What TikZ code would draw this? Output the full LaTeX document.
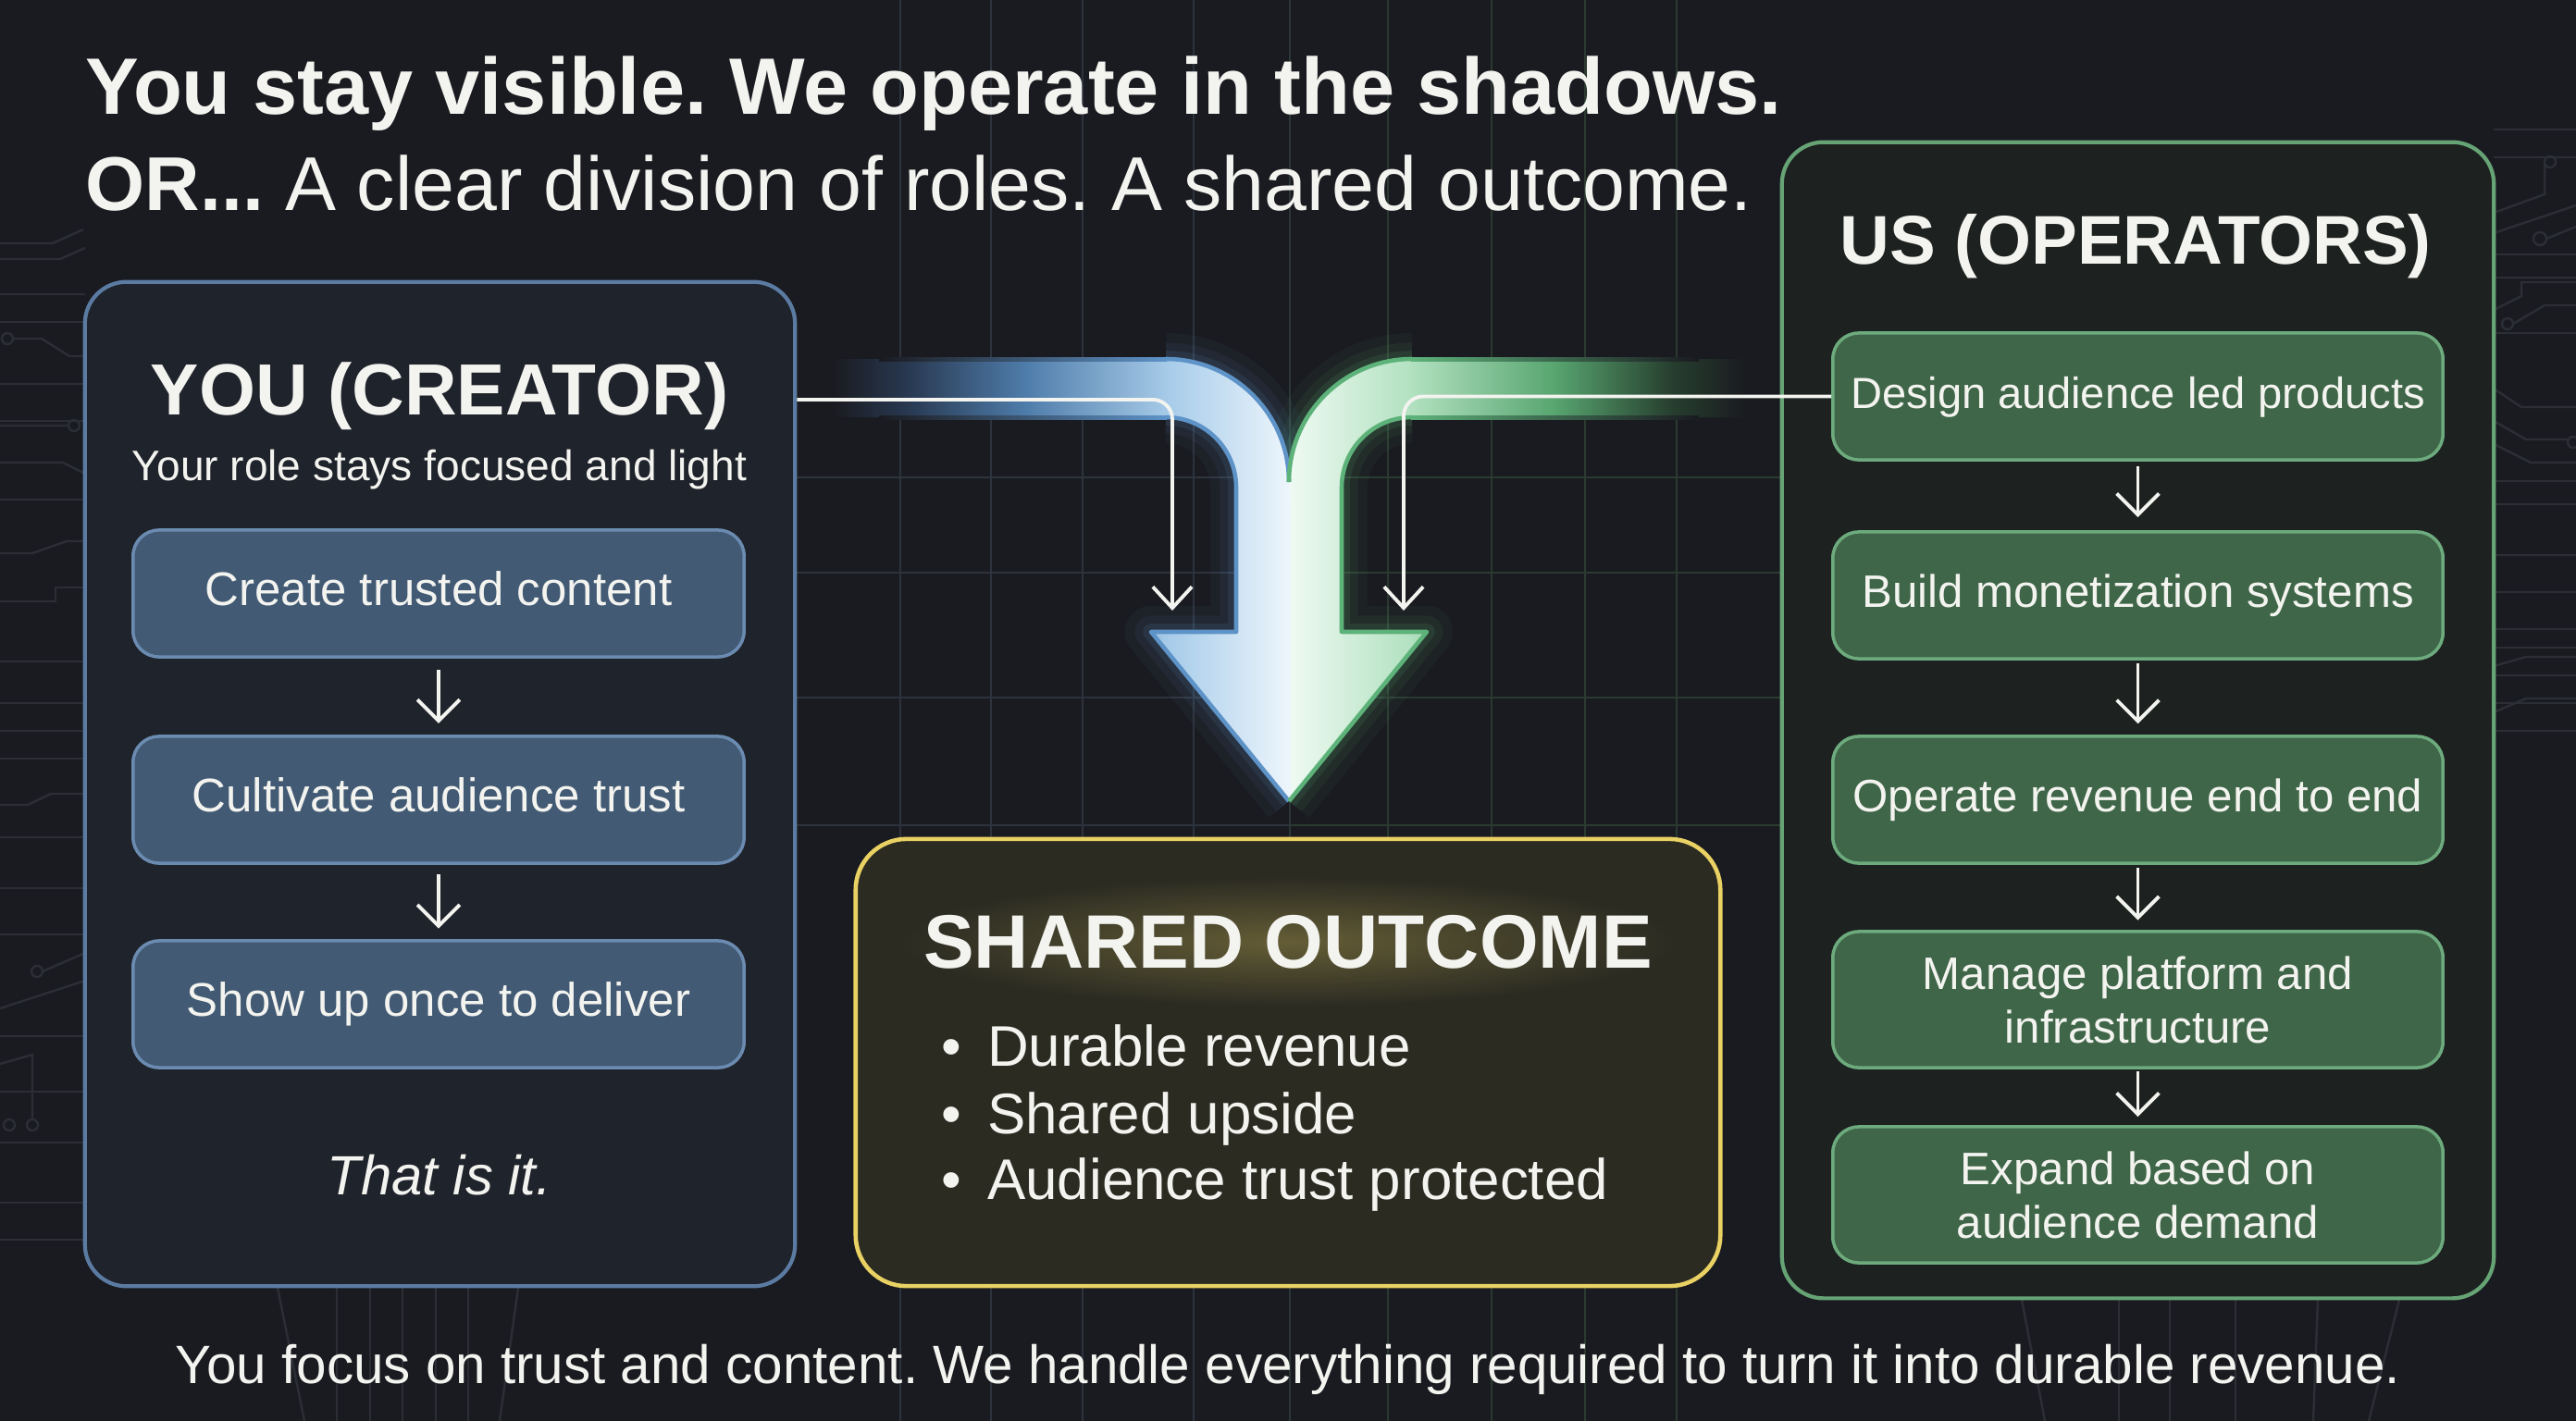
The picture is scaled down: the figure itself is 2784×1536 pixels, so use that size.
\documentclass[tikz,border=0pt]{standalone}
\usepackage{fontspec}
\setmainfont{Liberation Sans}
\usetikzlibrary{arrows.meta}
\frenchspacing
\definecolor{bg}{HTML}{1A1B20}
\definecolor{gridb}{HTML}{2D333D}
\definecolor{gridg}{HTML}{2B3A31}
\definecolor{trace}{HTML}{2B2E35}
\definecolor{lpfill}{HTML}{1F232B}
\definecolor{lpborder}{HTML}{5B7BA2}
\definecolor{bbfill}{HTML}{425A74}
\definecolor{bbborder}{HTML}{6B8BB1}
\definecolor{rpfill}{HTML}{1D2220}
\definecolor{rpborder}{HTML}{66A476}
\definecolor{gbfill}{HTML}{3F6648}
\definecolor{gbborder}{HTML}{6DAB7E}
\definecolor{sofill}{HTML}{2B2B22}
\definecolor{soborder}{HTML}{E9D163}
\definecolor{txt}{HTML}{F3F3EF}
\definecolor{arrblue}{HTML}{5E93C8}
\definecolor{arrgreen}{HTML}{5DB27A}
\definecolor{bbz}{HTML}{283850}
\definecolor{bbo}{HTML}{4E7CAA}
\definecolor{bbt}{HTML}{A9CDEA}
\definecolor{bbw}{HTML}{EEF6FC}
\definecolor{ggz}{HTML}{263E2E}
\definecolor{ggo}{HTML}{58A670}
\definecolor{ggt}{HTML}{B4E2C2}
\definecolor{ggw}{HTML}{EFFAF2}
\pgfdeclarehorizontalshading{blueband}{100bp}{color(0bp)=(bg); color(25bp)=(bg); color(33bp)=(bbz); color(46bp)=(bbo); color(62bp)=(bbt); color(75bp)=(bbw); color(100bp)=(bbw)}
\pgfdeclarehorizontalshading{greenband}{100bp}{color(0bp)=(ggw); color(25bp)=(ggw); color(38bp)=(ggt); color(54bp)=(ggo); color(67bp)=(ggz); color(75bp)=(bg); color(100bp)=(bg)}
\pgfdeclarelayer{back}
\pgfsetlayers{back,main}
\tikzset{
  panelL/.style={draw=lpborder, fill=lpfill, line width=1.2pt, rounded corners=0.45cm, minimum width=7.67cm, minimum height=10.85cm, inner sep=0pt},
  panelR/.style={draw=rpborder, fill=rpfill, line width=1.2pt, rounded corners=0.45cm, minimum width=7.69cm, minimum height=12.49cm, inner sep=0pt},
  outbox/.style={draw=soborder, fill=sofill, line width=1.3pt, rounded corners=0.55cm, minimum width=9.34cm, minimum height=4.83cm, inner sep=0pt},
  bluebox/.style={draw=bbborder, fill=bbfill, line width=1.0pt, rounded corners=0.28cm, minimum width=6.6cm, minimum height=1.37cm, inner xsep=1pt, text=txt, font=\fontsize{14.5}{17}\selectfont, align=center},
  greenbox/.style={draw=gbborder, fill=gbfill, line width=1.0pt, rounded corners=0.28cm, minimum width=6.59cm, minimum height=1.37cm, inner xsep=1pt, text=txt, font=\fontsize{14}{16.5}\selectfont, align=center},
  oneline/.style={text height=0.72em, text depth=0pt},
  label/.style={text=txt, inner sep=0pt},
  steparrow/.style={draw=txt, line width=1.1pt, -{Straight Barb[length=6.5pt,width=13pt,line width=1.1pt]}},
  conn/.style={draw=txt, line width=1.1pt, rounded corners=6pt, -{Straight Barb[length=6.5pt,width=12pt,line width=1.1pt]}},
  tracel/.style={draw=trace, line width=0.7pt},
  gridl/.style={line width=0.7pt},
}
\begin{document}
\begin{tikzpicture}[x=0.01cm,y=-0.01cm]
\useasboundingbox (0,0) rectangle (2784,1536);
\fill[bg] (0,0) rectangle (2784,1536);

% background grid
\foreach \x in {973,1071,1170,1290} \draw[gridl,gridb] (\x,0) -- (\x,1536);
\draw[gridl,gridb!50!gridg] (1394,0) -- (1394,1536);
\foreach \x in {1500,1612,1713,1812} \draw[gridl,gridg] (\x,0) -- (\x,1536);
\foreach \y in {516,619,754,892} {
  \draw[gridl,gridb] (859,\y) -- (1394,\y);
  \draw[gridl,gridg] (1394,\y) -- (1926,\y);
}
% circuit traces, left edge
\foreach \y in {318,348,415,455,540,715,760,790,820,905,960,1010,1120,1180,1235,1300} \draw[tracel] (0,\y) -- (92,\y);
\draw[tracel] (0,263) -- (57,263) -- (90,248);
\draw[tracel] (0,280) -- (65,280) -- (92,268);
\draw[tracel] (8,366) circle (6);
\draw[tracel] (14,366) -- (45,366) -- (75,385) -- (92,385);
\draw[tracel] (0,500) -- (68,500) -- (92,512);
\draw[tracel] (80,460) circle (6) (74,460) -- (0,460);
\draw[tracel] (0,598) -- (35,598) -- (72,585) -- (92,585);
\draw[tracel] (0,650) -- (60,650) -- (60,635) -- (92,635);
\draw[tracel] (0,870) -- (30,870) -- (55,858) -- (92,858);
\draw[tracel] (40,1050) circle (6) (46,1050) -- (92,1030);
\draw[tracel] (0,1090) -- (92,1060);
\draw[tracel] (0,1150) -- (35,1140) -- (35,1210) (35,1216) circle (6);
\draw[tracel] (10,1216) circle (6);
\draw[tracel] (0,1340) -- (92,1340);
% circuit traces, right edge
\foreach \y in {140,170,275,300,360,520,545,600,640,680,700,730,760,790} \draw[tracel] (2695,\y) -- (2784,\y);
\draw[tracel] (2695,230) -- (2750,210) -- (2750,175) (2756,175) circle (6);
\draw[tracel] (2695,252) -- (2784,222);
\draw[tracel] (2745,258) circle (7) (2752,258) -- (2784,245);
\draw[tracel] (2695,335) -- (2725,320) -- (2725,305) -- (2784,305);
\draw[tracel] (2710,350) circle (6) (2716,350) -- (2750,330) -- (2784,330);
\draw[tracel] (2695,420) -- (2725,440) -- (2784,440);
\draw[tracel] (2695,480) -- (2735,500) -- (2784,500);
\draw[tracel] (2695,455) -- (2730,475) -- (2775,475) (2781,478) circle (6);
\draw[tracel] (2695,720) -- (2730,710) -- (2784,710);
\draw[tracel] (2695,770) -- (2730,755) -- (2784,755);
% traces at the bottom
\foreach \x in {364,400,435,471,506} \draw[tracel] (\x,1392) -- (\x,1536);
\draw[tracel] (300,1392) -- (329,1536);
\draw[tracel] (560,1392) -- (540,1536);
\draw[tracel] (2185,1405) -- (2210,1536);
\draw[tracel] (2290,1405) -- (2290,1536);
\foreach \x in {2345,2416} \draw[tracel] (\x,1405) -- (\x,1536);
\draw[tracel] (2593,1405) -- (2560,1536);
\draw[tracel] (2505,1405) -- (2500,1536);

% panels
\node[panelL] (lp) at (475.5,847.5) {};
\node[panelR] (rp) at (2310.5,778.5) {};
\begin{pgfonlayer}{back}
  \foreach \w/\o in {10/0.05,5/0.08} {
    \draw[lpborder, line width=\w pt, opacity=\o, rounded corners=0.45cm] (lp.south west) rectangle (lp.north east);
    \draw[rpborder, line width=\w pt, opacity=\o, rounded corners=0.45cm] (rp.south west) rectangle (rp.north east);
  }
\end{pgfonlayer}

% big merging arrow: glow
\foreach \w/\o in {16/0.05,10/0.08,5/0.12} {
  \draw[arrblue, line width=\w pt, opacity=\o, line join=round] (1260,388) .. controls (1333.4,388) and (1393,447.6) .. (1393,521);
  \draw[arrblue, line width=\w pt, opacity=\o, line join=round] (1260,451) .. controls (1302,451) and (1336,485) .. (1336,527) -- (1336,683) -- (1244,683) -- (1393,866);
  \draw[arrgreen, line width=\w pt, opacity=\o, line join=round] (1526,388) .. controls (1452.6,388) and (1393,447.6) .. (1393,521);
  \draw[arrgreen, line width=\w pt, opacity=\o, line join=round] (1526,451) .. controls (1484,451) and (1450,485) .. (1450,527) -- (1450,683) -- (1542,683) -- (1393,866);
}
% fills
\shade[shading=greenband] (1886,388) -- (1526,388) .. controls (1452.6,388) and (1393,447.6) .. (1393,521) -- (1393,866) -- (1542,683) -- (1450,683) -- (1450,527) .. controls (1450,485) and (1484,451) .. (1526,451) -- (1886,451) -- cycle;
\shade[shading=blueband] (900,388) -- (1260,388) .. controls (1333.4,388) and (1393,447.6) .. (1393,521) -- (1395,540) -- (1395,862) -- (1393,866) -- (1244,683) -- (1336,683) -- (1336,527) .. controls (1336,485) and (1302,451) .. (1260,451) -- (900,451) -- cycle;
% outlines
\draw[arrblue, line width=1.3pt] (1260,388) .. controls (1333.4,388) and (1393,447.6) .. (1393,521);
\draw[arrblue, line width=1.3pt, line join=round] (1260,451) .. controls (1302,451) and (1336,485) .. (1336,527) -- (1336,683) -- (1244,683) -- (1393,866);
\draw[arrgreen, line width=1.3pt] (1526,388) .. controls (1452.6,388) and (1393,447.6) .. (1393,521);
\draw[arrgreen, line width=1.3pt, line join=round] (1526,451) .. controls (1484,451) and (1450,485) .. (1450,527) -- (1450,683) -- (1542,683) -- (1393,866);
\shade[left color=bg, right color=arrblue] (950,386) rectangle (1261,390.5);
\shade[left color=bg, right color=arrblue] (950,449) rectangle (1261,453.5);
\shade[left color=arrgreen, right color=bg] (1525,386) rectangle (1836,390.5);
\shade[left color=arrgreen, right color=bg] (1525,449) rectangle (1836,453.5);

% shared outcome box
\node[outbox] (so) at (1392,1148.5) {};
\begin{pgfonlayer}{back}
  \foreach \w/\o in {22/0.04,14/0.07,8/0.10,4/0.16} {
    \draw[soborder, line width=\w pt, opacity=\o, rounded corners=0.55cm] (so.south west) rectangle (so.north east);
  }
\end{pgfonlayer}
\shade[inner color=soborder!30!sofill, outer color=sofill] (1392,1018) ellipse (420 and 70);

% title
\node[label, anchor=base west, font=\bfseries\fontsize{24.6}{28}\selectfont] (t1) at (92,123) {You stay visible. We operate in the shadows.};
\node[label, anchor=base west, font=\fontsize{23.45}{28}\selectfont] (t2) at (92,227) {\textbf{OR...} A clear division of roles. A shared outcome.};

% left panel content
\node[label, anchor=base, font=\bfseries\fontsize{22.3}{25}\selectfont] (lh) at (475,448) {YOU (CREATOR)};
\node[label, anchor=base, font=\fontsize{13.1}{15}\selectfont] (ls) at (475,519) {Your role stays focused and light};
\node[bluebox, oneline] (b1) at (474,641.5) {Create trusted content};
\node[bluebox, oneline] (b2) at (474,864.5) {Cultivate audience trust};
\node[bluebox, oneline] (b3) at (474,1085.5) {Show up once to deliver};
\draw[steparrow, shorten <=3.5pt, shorten >=3.5pt] (b1) -- (b2);
\draw[steparrow, shorten <=3pt, shorten >=3.3pt] (b2) -- (b3);
\node[label, anchor=base, font=\itshape\fontsize{17}{20}\selectfont] (li) at (475,1291) {That is it.};

% right panel content
\node[label, anchor=base, font=\bfseries\fontsize{21.2}{25}\selectfont] (rh) at (2308,285) {US (OPERATORS)};
\node[greenbox, oneline, font=\fontsize{13.4}{16}\selectfont] (g1) at (2310.5,428.5) {Design audience led products};
\node[greenbox, oneline] (g2) at (2310.5,643.5) {Build monetization systems};
\node[greenbox, oneline] (g3) at (2310.5,864.5) {Operate revenue end to end};
\node[greenbox, minimum height=1.47cm] (g4) at (2310.5,1080.5) {Manage platform and\\infrastructure};
\node[greenbox, minimum height=1.47cm] (g5) at (2310.5,1291.5) {Expand based on\\audience demand};
\draw[steparrow, shorten <=1.5pt, shorten >=4pt] (g1) -- (g2);
\draw[steparrow, shorten <=1pt, shorten >=3.4pt] (g2) -- (g3);
\draw[steparrow, shorten <=1pt, shorten >=3pt] (g3) -- (g4);
\draw[steparrow, shorten <=0.5pt, shorten >=2.6pt] (g4) -- (g5);

% connectors into the merging arrow
\coordinate (lbend) at (1267,432);
\coordinate (lend) at (1267,660);
\coordinate (rend) at (1517,660);
\draw[conn] (lp.east |- lbend) -| (lend);
\draw[conn] (g1.west) -| (rend);

% shared outcome content
\node[label, anchor=base, font=\bfseries\fontsize{23.3}{27}\selectfont] (sh) at (1392,1046) {SHARED OUTCOME};
\node[label, anchor=base west, font=\fontsize{17.6}{20}\selectfont] (s1) at (1017,1152) {•\hspace{0.45em}Durable revenue};
\node[label, anchor=base west, font=\fontsize{17.6}{20}\selectfont] (s2) at (1017,1225) {•\hspace{0.45em}Shared upside};
\node[label, anchor=base west, font=\fontsize{17.6}{20}\selectfont] (s3) at (1017,1296) {•\hspace{0.45em}Audience trust protected};

% footer
\node[label, anchor=base, font=\fontsize{16.6}{20}\selectfont] (ft) at (1392,1495) {You focus on trust and content. We handle everything required to turn it into durable revenue.};
\end{tikzpicture}
\end{document}
